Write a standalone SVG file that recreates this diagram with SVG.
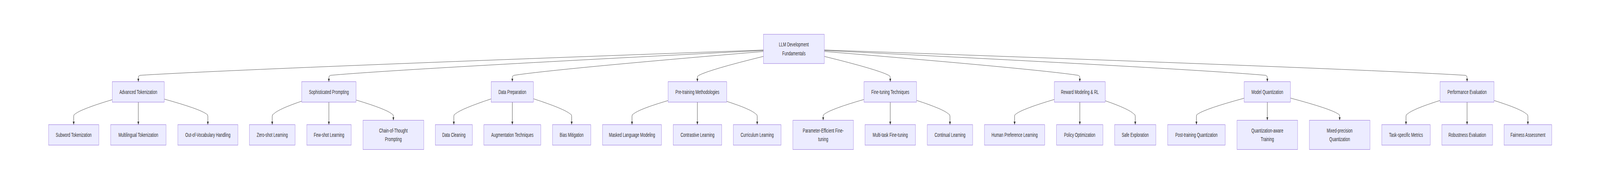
<svg xmlns="http://www.w3.org/2000/svg" width="6524" height="472" viewBox="0 0 6524 472" preserveAspectRatio="none" style="width:100vw;height:100vh">
<style>
.node rect{fill:#ECECFF;stroke:#9370DB;stroke-width:1}
.node text{font-family:"Liberation Sans",Arial,sans-serif;font-size:15px;fill:#333333;text-anchor:middle;dominant-baseline:central}
.edge{fill:none;stroke:#333333;stroke-width:1;marker-end:url(#arrow)}
</style>
<defs>
<marker id="arrow" viewBox="0 0 10 10" refX="10" refY="5" markerWidth="8" markerHeight="8" markerUnits="userSpaceOnUse" orient="auto">
<path d="M0,0 L10,5 L0,10 z" fill="#333333"/>
</marker>
</defs>
<rect x="0" y="0" width="6524" height="472" fill="#ffffff"/>
<g id="connectors">
<path class="edge" d="M3113,128.32 Q993.83,176.48 570,193.25 Q564,194.25 564,199.25 L564,209.5"/>
<path class="edge" d="M3113,129.47 Q1641.33,176.63 1347,193.25 Q1341,194.25 1341,199.25 L1341,209.5"/>
<path class="edge" d="M3113,132.06 Q2264.67,176.95 2095,193.25 Q2089,194.25 2089,199.25 L2089,209.5"/>
<path class="edge" d="M3113,144.64 Q2893.42,178.54 2849.5,193.25 Q2843.5,194.25 2843.5,199.25 L2843.5,209.5"/>
<path class="edge" d="M3361,144.67 Q3580.17,178.55 3624,193.25 Q3630,194.25 3630,199.25 L3630,209.5"/>
<path class="edge" d="M3361,131.96 Q4224.33,176.94 4397,193.25 Q4403,194.25 4403,199.25 L4403,209.5"/>
<path class="edge" d="M3361,129.4 Q4861.42,176.62 5161.5,193.25 Q5167.5,194.25 5167.5,199.25 L5167.5,209.5"/>
<path class="edge" d="M3361,128.24 Q5540.17,176.47 5976,193.25 Q5982,194.25 5982,199.25 L5982,209.5"/>

<path class="edge" d="M458,255.66 Q331.75,279.38 306.5,292.25 Q300.5,293.25 300.5,298.25 L300.5,319.75"/>
<path class="edge" d="M564,262 L564,319.75"/>
<path class="edge" d="M670,254.26 Q812.92,279.21 841.5,292.25 Q847.5,293.25 847.5,298.25 L847.5,319.75"/>

<path class="edge" d="M1230,259.54 Q1135,279.89 1116,292.25 Q1110,293.25 1110,298.25 L1110,319.75"/>
<path class="edge" d="M1341,262 L1341,319.75"/>
<path class="edge" d="M1452,256.64 Q1573.67,279.54 1598,292.25 Q1604,293.25 1604,298.25 L1604,308.5"/>

<path class="edge" d="M2003,253.6 Q1880.92,278.94 1856.5,292.25 Q1850.5,293.25 1850.5,298.25 L1850.5,319.75"/>
<path class="edge" d="M2089,262 L2089,319.75"/>
<path class="edge" d="M2175,253.34 Q2300,278.91 2325,292.25 Q2331,293.25 2331,298.25 L2331,319.75"/>

<path class="edge" d="M2724,257.95 Q2606.5,279.77 2583,292.25 Q2577,293.25 2577,298.25 L2577,319.75"/>
<path class="edge" d="M2843.5,262 L2843.5,319.75"/>
<path class="edge" d="M2963,259.99 Q3061.75,280.03 3081.5,292.25 Q3087.5,293.25 3087.5,298.25 L3087.5,319.75"/>

<path class="edge" d="M3523,255.12 Q3389.25,279.32 3362.5,292.25 Q3356.5,293.25 3356.5,298.25 L3356.5,308.5"/>
<path class="edge" d="M3630,262 L3630,319.75"/>
<path class="edge" d="M3737,257.5 Q3845.75,279.61 3867.5,292.25 Q3873.5,293.25 3873.5,298.25 L3873.5,319.75"/>

<path class="edge" d="M4299,255.1 Q4169,279.29 4143,292.25 Q4137,293.25 4137,298.25 L4137,319.75"/>
<path class="edge" d="M4403,262 L4403,319.75"/>
<path class="edge" d="M4507,258.53 Q4603.67,279.7 4623,292.25 Q4629,293.25 4629,298.25 L4629,319.75"/>

<path class="edge" d="M5073,251.94 Q4915.92,278.84 4884.5,292.25 Q4878.5,293.25 4878.5,298.25 L4878.5,319.75"/>
<path class="edge" d="M5167.5,262 L5167.5,308.5"/>
<path class="edge" d="M5262,251.61 Q5424.08,278.8 5456.5,292.25 Q5462.5,293.25 5462.5,298.25 L5462.5,308.5"/>

<path class="edge" d="M5872,257.62 Q5761.17,279.65 5739,292.25 Q5733,293.25 5733,298.25 L5733,319.75"/>
<path class="edge" d="M5982,262 L5982,319.75"/>
<path class="edge" d="M6092,257.71 Q6202,279.66 6224,292.25 Q6230,293.25 6230,298.25 L6230,319.75"/>
</g>

<g id="node-root" class="node"><rect x="3113" y="88" width="248" height="75"/><text x="3237" y="114.25">LLM Development</text><text x="3237" y="136.75">Fundamentals</text></g>

<g id="node-advanced-tokenization" class="node"><rect x="458" y="209.5" width="212" height="52.5"/><text x="564" y="235.75">Advanced Tokenization</text></g>
<g id="node-sophisticated-prompting" class="node"><rect x="1230" y="209.5" width="222" height="52.5"/><text x="1341" y="235.75">Sophisticated Prompting</text></g>
<g id="node-data-preparation" class="node"><rect x="2003" y="209.5" width="172" height="52.5"/><text x="2089" y="235.75">Data Preparation</text></g>
<g id="node-pretraining-methodologies" class="node"><rect x="2724" y="209.5" width="239" height="52.5"/><text x="2843.5" y="235.75">Pre-training Methodologies</text></g>
<g id="node-finetuning-techniques" class="node"><rect x="3523" y="209.5" width="214" height="52.5"/><text x="3630" y="235.75">Fine-tuning Techniques</text></g>
<g id="node-reward-modeling" class="node"><rect x="4299" y="209.5" width="208" height="52.5"/><text x="4403" y="235.75">Reward Modeling &amp; RL</text></g>
<g id="node-model-quantization" class="node"><rect x="5073" y="209.5" width="189" height="52.5"/><text x="5167.5" y="235.75">Model Quantization</text></g>
<g id="node-performance-evaluation" class="node"><rect x="5872" y="209.5" width="220" height="52.5"/><text x="5982" y="235.75">Performance Evaluation</text></g>

<g id="node-subword-tokenization" class="node"><rect x="198" y="319.75" width="205" height="52.5"/><text x="300.5" y="346">Subword Tokenization</text></g>
<g id="node-multilingual-tokenization" class="node"><rect x="451" y="319.75" width="226" height="52.5"/><text x="564" y="346">Multilingual Tokenization</text></g>
<g id="node-oov-handling" class="node"><rect x="725" y="319.75" width="245" height="52.5"/><text x="847.5" y="346">Out-of-Vocabulary Handling</text></g>

<g id="node-zero-shot" class="node"><rect x="1017" y="319.75" width="186" height="52.5"/><text x="1110" y="346">Zero-shot Learning</text></g>
<g id="node-few-shot" class="node"><rect x="1251" y="319.75" width="181" height="52.5"/><text x="1341.5" y="346">Few-shot Learning</text></g>
<g id="node-chain-of-thought" class="node"><rect x="1480" y="308.5" width="248" height="75"/><text x="1604" y="334.75">Chain-of-Thought</text><text x="1604" y="357.25">Prompting</text></g>

<g id="node-data-cleaning" class="node"><rect x="1775" y="319.75" width="151" height="52.5"/><text x="1850.5" y="346">Data Cleaning</text></g>
<g id="node-augmentation" class="node"><rect x="1973" y="319.75" width="232" height="52.5"/><text x="2089" y="346">Augmentation Techniques</text></g>
<g id="node-bias-mitigation" class="node"><rect x="2253" y="319.75" width="156" height="52.5"/><text x="2331" y="346">Bias Mitigation</text></g>

<g id="node-masked-lm" class="node"><rect x="2457" y="319.75" width="240" height="52.5"/><text x="2577" y="346">Masked Language Modeling</text></g>
<g id="node-contrastive" class="node"><rect x="2745" y="319.75" width="198" height="52.5"/><text x="2844" y="346">Contrastive Learning</text></g>
<g id="node-curriculum" class="node"><rect x="2990" y="319.75" width="195" height="52.5"/><text x="3087.5" y="346">Curriculum Learning</text></g>

<g id="node-peft" class="node"><rect x="3233" y="308.5" width="247" height="75"/><text x="3356.5" y="334.75">Parameter-Efficient Fine-</text><text x="3356.5" y="357.25">tuning</text></g>
<g id="node-multi-task" class="node"><rect x="3527" y="319.75" width="206" height="52.5"/><text x="3630" y="346">Multi-task Fine-tuning</text></g>
<g id="node-continual" class="node"><rect x="3781" y="319.75" width="185" height="52.5"/><text x="3873.5" y="346">Continual Learning</text></g>

<g id="node-human-preference" class="node"><rect x="4014" y="319.75" width="246" height="52.5"/><text x="4137" y="346">Human Preference Learning</text></g>
<g id="node-policy-optimization" class="node"><rect x="4308" y="319.75" width="189" height="52.5"/><text x="4402.5" y="346">Policy Optimization</text></g>
<g id="node-safe-exploration" class="node"><rect x="4545" y="319.75" width="168" height="52.5"/><text x="4629" y="346">Safe Exploration</text></g>

<g id="node-ptq" class="node"><rect x="4761" y="319.75" width="235" height="52.5"/><text x="4878.5" y="346">Post-training Quantization</text></g>
<g id="node-qat" class="node"><rect x="5044" y="308.5" width="247" height="75"/><text x="5167.5" y="334.75">Quantization-aware</text><text x="5167.5" y="357.25">Training</text></g>
<g id="node-mixed-precision" class="node"><rect x="5339" y="308.5" width="247" height="75"/><text x="5462.5" y="334.75">Mixed-precision</text><text x="5462.5" y="357.25">Quantization</text></g>

<g id="node-task-metrics" class="node"><rect x="5634" y="319.75" width="198" height="52.5"/><text x="5733" y="346">Task-specific Metrics</text></g>
<g id="node-robustness" class="node"><rect x="5879" y="319.75" width="207" height="52.5"/><text x="5982.5" y="346">Robustness Evaluation</text></g>
<g id="node-fairness" class="node"><rect x="6133" y="319.75" width="194" height="52.5"/><text x="6230" y="346">Fairness Assessment</text></g>
</svg>
